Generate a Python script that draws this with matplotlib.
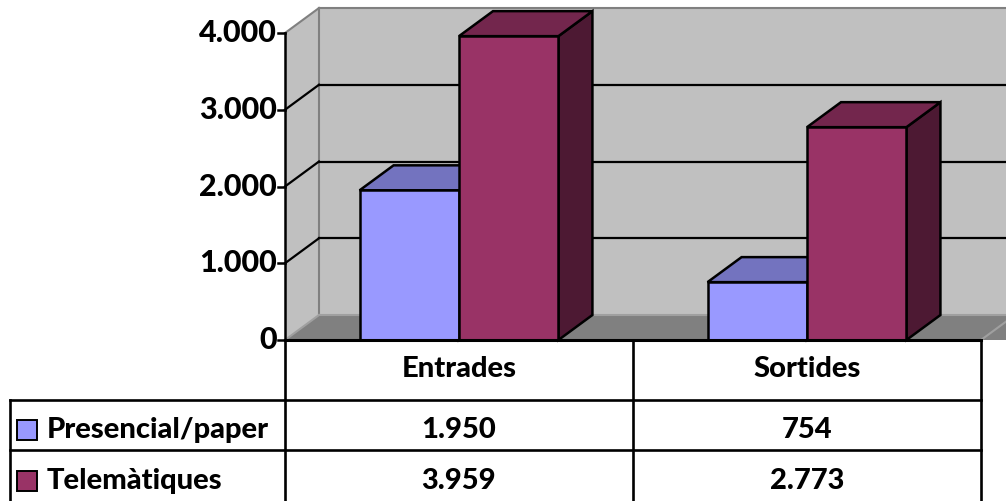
import matplotlib.pyplot as plt
from matplotlib.patches import Polygon, Rectangle

# dades
categories = ["Entrades", "Sortides"]
series_names = ["Presencial/paper", "Telemàtiques"]
presencial = [1950, 754]
telematiques = [3959, 2773]
y_ticks = [0, 1000, 2000, 3000, 4000]

front_colors = ["#9999FF", "#993366"]
top_colors = ["#7373BF", "#73264D"]
side_colors = ["#4D4D80", "#4D1933"]

plt.rcParams['font.family'] = ['Lato', 'DejaVu Sans']
FW = "black"
FS = 21

W, H = 1006, 501
fig = plt.figure(figsize=(W / 100, H / 100), dpi=100)
ax = fig.add_axes([0, 0, 1, 1])
ax.axis("off")

# escala: pla frontal en pixels
x0_px, cat_px = 285, 348
y0_px, per1000_px = 340, 76.75
ax.set_xlim(-x0_px / cat_px, (W - x0_px) / cat_px)
ax.set_ylim(-(H - y0_px) / per1000_px * 1000, y0_px / per1000_px * 1000)


def px(x):
    return (x - x0_px) / cat_px


def py(y):
    return (y0_px - y) / per1000_px * 1000


# profunditat 3D
dx = 34 / cat_px
dy = 25 / per1000_px * 1000
ymax = y_ticks[-1]
ncat = len(categories)
xr = ncat + dx + 0.2

# parets i terra
ax.add_patch(Polygon([(dx, dy), (dx, ymax + dy), (xr, ymax + dy), (xr, dy)],
                     closed=True, fc="#C0C0C0", ec="none", zorder=1))
ax.add_patch(Polygon([(0, 0), (0, ymax), (dx, ymax + dy), (dx, dy)],
                     closed=True, fc="#C0C0C0", ec="none", zorder=1))
ax.add_patch(Polygon([(0, 0), (dx, dy), (xr, dy), (xr, 0)],
                     closed=True, fc="#808080", ec="none", zorder=1))
ax.plot([dx, dx], [dy, ymax + dy], color="#808080", lw=1.5, zorder=2)
ax.plot([dx, xr], [ymax + dy, ymax + dy], color="#808080", lw=1.5, zorder=2)
ax.plot([0, dx], [ymax, ymax + dy], color="#808080", lw=1.5, zorder=2)
ax.plot([0, dx], [0, dy], color="#A0A0A0", lw=1.5, zorder=2)
ax.plot([dx, xr], [dy, dy], color="#A0A0A0", lw=1.5, zorder=2)
ax.plot([ncat, ncat + dx], [0, dy], color="#A0A0A0", lw=1.5, zorder=2)

# línies de graella
for t in y_ticks[1:-1]:
    ax.plot([dx, xr], [t + dy, t + dy], color="black", lw=1.6, zorder=2)
    ax.plot([0, dx], [t, t + dy], color="black", lw=1.6, zorder=2)

# barres 3D
bw = 1 / 3.5
for i in range(ncat):
    for j, vals in enumerate([presencial, telematiques]):
        h = vals[i]
        left = i + 0.75 * bw + j * bw
        ax.add_patch(Polygon([(left + bw, 0), (left + bw, h), (left + bw + dx, h + dy),
                              (left + bw + dx, dy)], closed=True, fc=side_colors[j],
                             ec="black", lw=1.8, joinstyle="miter", zorder=3))
        ax.add_patch(Polygon([(left, h), (left + dx, h + dy), (left + bw + dx, h + dy),
                              (left + bw, h)], closed=True, fc=top_colors[j],
                             ec="black", lw=1.8, joinstyle="miter", zorder=3))
        ax.add_patch(Rectangle((left, 0), bw, h, fc=front_colors[j],
                               ec="black", lw=1.8, joinstyle="miter", zorder=3))

# eix vertical
ax.plot([0, 0], [0, ymax], color="black", lw=1.8, zorder=4)
for t in y_ticks:
    ax.plot([px(278), 0], [t, t], color="black", lw=1.8, zorder=4)
    ax.text(px(277), t, f"{t:,}".replace(",", "."), ha="right", va="center",
            fontsize=FS + 1, fontweight=FW)

# taula de dades
tl = dict(color="black", lw=1.9, zorder=4)
ybot = py(H + 2)
ax.plot([0, ncat], [0, 0], color="black", lw=2.2, zorder=4)
ax.plot([px(10), ncat], [py(400), py(400)], **tl)
ax.plot([px(10), ncat], [py(450), py(450)], **tl)
ax.plot([px(10), px(10)], [py(400), ybot], **tl)
for k in range(ncat + 1):
    ax.plot([k, k], [0, ybot], **tl)

for i, c in enumerate(categories):
    ax.text(i + 0.5, py(369), c, ha="center", va="center", fontsize=FS, fontweight=FW)

row_y = [py(430), py(481)]
for j, (name, vals) in enumerate(zip(series_names, [presencial, telematiques])):
    ax.plot(px(27), row_y[j], marker="s", ms=14, mfc=front_colors[j], mec="black",
            mew=1.4, zorder=5)
    ax.text(px(47), row_y[j], name, ha="left", va="center", fontsize=FS, fontweight=FW)
    for i, v in enumerate(vals):
        ax.text(i + 0.5, row_y[j], f"{v:,}".replace(",", "."), ha="center", va="center",
                fontsize=FS, fontweight=FW)

fig.savefig("out.png", dpi=100)
